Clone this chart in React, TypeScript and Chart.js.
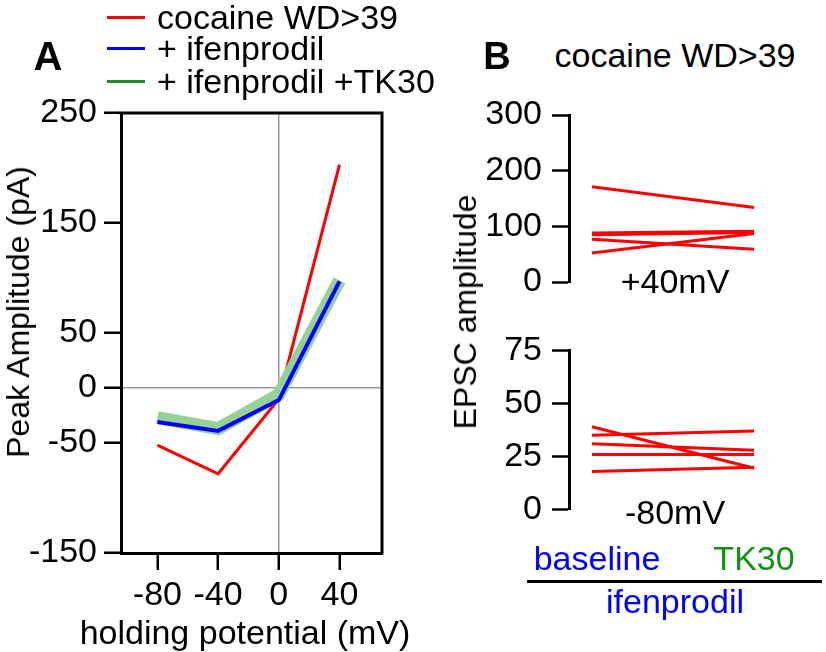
import React, { useEffect, useRef } from 'react';
import { Chart, registerables } from 'chart.js';
Chart.register(...registerables);

const FONT = '"Liberation Sans", Arial, Helvetica, sans-serif';
Chart.defaults.font.family = FONT;
Chart.defaults.color = '#000';

// ---------- Panel A data ----------
const holdingPotentials = [-80, -40, 0, 40];
const cocaineWD39 = [-52, -78, -10, 203];
const ifenprodil = [-31, -39, -11, 97];
const ifenprodilTK30 = [-27, -37, -6, 98];
const panelAYTicks = [-150, -50, 0, 50, 150, 250];
const panelAXTicks = [-80, -40, 0, 40];

// ---------- Panel B data ----------
const conditionPositions = [0, 1]; // baseline, TK30
const plus40Baseline = [171, 88, 85, 77, 52];
const plus40TK30 = [134, 91, 89, 59, 87];
const minus80Baseline = [39, 35, 31, 26, 18];
const minus80TK30 = [19.5, 37, 28, 26, 20];

const RED = '#ff0000';
const BLUE = '#0000ff';
const GREEN_BAND = 'rgb(150, 210, 150)';
const GREEN_LEGEND = '#1e8f1e';
const GREEN_TEXT = '#129212';
const TICK_FONT = 34;

const setTicks = (vals: number[]) => (axis: any) => {
  axis.ticks = vals.map((v) => ({ value: v }));
};

const framePlugin = {
  id: 'frame',
  afterDatasetsDraw(chart: any) {
    const { ctx, chartArea } = chart;
    ctx.save();
    ctx.strokeStyle = '#000';
    ctx.lineWidth = 3;
    ctx.lineCap = 'square';
    ctx.beginPath();
    ctx.moveTo(chartArea.left, chartArea.top);
    ctx.lineTo(chartArea.right, chartArea.top);
    ctx.lineTo(chartArea.right, chartArea.bottom);
    ctx.stroke();
    ctx.restore();
  },
};

function toXY(ys: number[]) {
  return holdingPotentials.map((x, i) => ({ x, y: ys[i] }));
}

function panelAConfig(): any {
  return {
    type: 'line',
    data: {
      datasets: [
        { label: '+ ifenprodil', data: toXY(ifenprodil), borderColor: BLUE, borderWidth: 4 },
        { label: '+ ifenprodil +TK30', data: toXY(ifenprodilTK30), borderColor: GREEN_BAND, borderWidth: 13 },
        { label: 'cocaine WD>39', data: toXY(cocaineWD39), borderColor: RED, borderWidth: 3 },
      ].map((d) => ({ ...d, pointRadius: 0, fill: false, tension: 0, borderJoinStyle: 'miter', borderCapStyle: 'butt' })),
    },
    options: {
      responsive: false,
      animation: false,
      devicePixelRatio: 1,
      layout: { padding: { top: 113, right: 38, bottom: 0, left: 0 } },
      plugins: { legend: { display: false }, tooltip: { enabled: false } },
      scales: {
        x: {
          type: 'linear',
          min: -104,
          max: 68,
          afterBuildTicks: setTicks(panelAXTicks),
          afterFit: (s: any) => { s.height = 99; },
          border: { display: true, color: '#000', width: 3 },
          grid: {
            drawOnChartArea: true,
            color: (c: any) => (c.tick && c.tick.value === 0 ? '#999' : 'rgba(0,0,0,0)'),
            lineWidth: 1.5,
            tickColor: '#000',
            tickWidth: 2.5,
            tickLength: 17,
          },
          ticks: { autoSkip: false, maxRotation: 0, font: { size: TICK_FONT }, padding: 5, color: '#000' },
        },
        y: {
          type: 'linear',
          min: -150,
          max: 250,
          afterBuildTicks: setTicks(panelAYTicks),
          afterFit: (s: any) => { s.width = 121; },
          border: { display: true, color: '#000', width: 3 },
          grid: {
            drawOnChartArea: true,
            color: (c: any) => (c.tick && c.tick.value === 0 ? '#999' : 'rgba(0,0,0,0)'),
            lineWidth: 1.5,
            tickColor: '#000',
            tickWidth: 2.5,
            tickLength: 17,
          },
          ticks: { autoSkip: false, font: { size: TICK_FONT }, padding: 7, color: '#000' },
        },
      },
    },
    plugins: [framePlugin],
  };
}

function panelBConfig(base: number[], tk: number[], max: number, step: number, pad: any): any {
  return {
    type: 'line',
    data: {
      datasets: base.map((b, i) => ({
        label: 'cell ' + (i + 1),
        data: [
          { x: conditionPositions[0], y: b },
          { x: conditionPositions[1], y: tk[i] },
        ],
        borderColor: RED,
        borderWidth: 3,
        pointRadius: 0,
        fill: false,
        tension: 0,
      })),
    },
    options: {
      responsive: false,
      animation: false,
      devicePixelRatio: 1,
      layout: { padding: pad },
      plugins: { legend: { display: false }, tooltip: { enabled: false } },
      scales: {
        x: { type: 'linear', min: -0.142, max: 1.16, display: false },
        y: {
          type: 'linear',
          min: 0,
          max,
          afterFit: (s: any) => { s.width = 129; },
          border: { display: true, color: '#000', width: 3 },
          grid: { drawOnChartArea: false, tickColor: '#000', tickWidth: 2.5, tickLength: 17 },
          ticks: { stepSize: step, autoSkip: false, font: { size: TICK_FONT }, padding: 10, color: '#000' },
        },
      },
    },
  };
}

function ChartCanvas({ left, top, width, height, makeConfig }: any) {
  const ref = useRef<HTMLCanvasElement>(null);
  useEffect(() => {
    const chart = new Chart(ref.current as HTMLCanvasElement, makeConfig());
    return () => chart.destroy();
  }, []);
  return (
    <div style={{ position: 'absolute', left, top, width, height }}>
      <canvas ref={ref} width={width} height={height} style={{ width, height, display: 'block' }} />
    </div>
  );
}

function Label({ x, y, text, size = 34, color = '#000', bold = false, rotate = false, anchor = 'center' }: any) {
  const tx = anchor === 'left' ? '0' : '-50%';
  return (
    <div
      style={{
        position: 'absolute',
        left: x,
        top: y,
        transform: `translate(${tx}, -50%)${rotate ? ' rotate(-90deg)' : ''}`,
        transformOrigin: anchor === 'left' ? 'left center' : 'center center',
        fontFamily: FONT,
        fontSize: size,
        fontWeight: bold ? 'bold' : 'normal',
        lineHeight: 1,
        color,
        whiteSpace: 'nowrap',
      }}
    >
      {text}
    </div>
  );
}

function LegendLine({ x, y, color }: any) {
  return <div style={{ position: 'absolute', left: x, top: y - 1.5, width: 38, height: 3, background: color }} />;
}

export default function App() {
  return (
    <div style={{ position: 'absolute', left: 0, top: 0, width: 826, height: 652, background: '#fff', overflow: 'hidden' }}>
      <ChartCanvas left={0} top={0} width={420} height={652} makeConfig={panelAConfig} />
      <ChartCanvas
        left={440}
        top={80}
        width={386}
        height={240}
        makeConfig={() => panelBConfig(plus40Baseline, plus40TK30, 300, 100, { top: 35, right: 46, bottom: 38, left: 0 })}
      />
      <ChartCanvas
        left={440}
        top={320}
        width={386}
        height={220}
        makeConfig={() => panelBConfig(minus80Baseline, minus80TK30, 75, 25, { top: 28, right: 46, bottom: 27, left: 0 })}
      />

      {/* Panel A annotations */}
      <Label x={48} y={56} text="A" size={40} bold />
      <LegendLine x={107} y={17} color={RED} />
      <LegendLine x={107} y={48} color={BLUE} />
      <LegendLine x={107} y={81} color={GREEN_LEGEND} />
      <Label x={157} y={17} text="cocaine WD>39" anchor="left" />
      <Label x={157} y={48} text="+ ifenprodil" anchor="left" />
      <Label x={157} y={81} text="+ ifenprodil +TK30" anchor="left" />
      <Label x={18} y={312} text="Peak Amplitude (pA)" size={32} rotate />
      <Label x={245} y={632} text="holding potential (mV)" />

      {/* Panel B annotations */}
      <Label x={497} y={56} text="B" size={38} bold />
      <Label x={675} y={55} text="cocaine WD>39" />
      <Label x={465} y={312} text="EPSC amplitude" size={32} rotate />
      <Label x={675} y={281} text="+40mV" />
      <Label x={675} y={512} text="-80mV" />
      <Label x={597} y={558} text="baseline" color={BLUE} />
      <Label x={754} y={558} text="TK30" color={GREEN_TEXT} />
      <div style={{ position: 'absolute', left: 527, top: 580, width: 295, height: 3, background: '#000' }} />
      <Label x={675} y={601} text="ifenprodil" color={BLUE} />
    </div>
  );
}
